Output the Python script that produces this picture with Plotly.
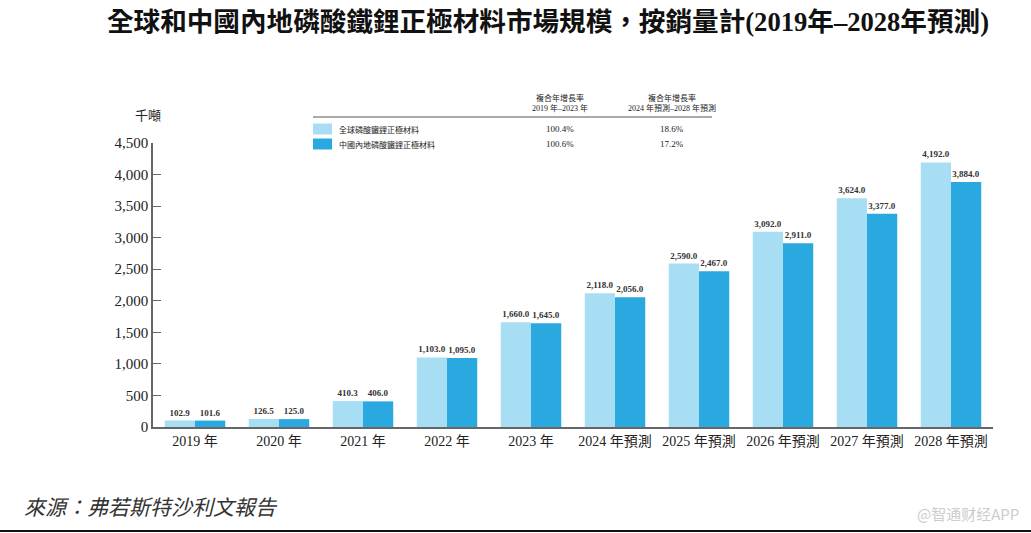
import plotly.graph_objects as go

categories = ["2019年", "2020年", "2021年", "2022年", "2023年",
              "2024年預測", "2025年預測", "2026年預測", "2027年預測", "2028年預測"]
tick_labels = ["2019 年", "2020 年", "2021 年", "2022 年", "2023 年",
               "2024 年預測", "2025 年預測", "2026 年預測", "2027 年預測", "2028 年預測"]
global_vals = [102.9, 126.5, 410.3, 1103.0, 1660.0, 2118.0, 2590.0, 3092.0, 3624.0, 4192.0]
china_vals = [101.6, 125.0, 406.0, 1095.0, 1645.0, 2056.0, 2467.0, 2911.0, 3377.0, 3884.0]
series_names = ["全球磷酸鐵鋰正極材料", "中國內地磷酸鐵鋰正極材料"]
cagr_1 = ["100.4%", "100.6%"]
cagr_2 = ["18.6%", "17.2%"]
y_ticks = [0, 500, 1000, 1500, 2000, 2500, 3000, 3500, 4000, 4500]

LIGHT = "#A7DEF3"
DARK = "#29A9E0"
SERIF = "Liberation Serif, Times New Roman, serif"
CJK = "Noto Sans CJK TC, Noto Sans CJK SC, sans-serif"

W, H = 1031, 533
L, R, T, B = 153, 993, 143, 427


def px(x):
    return (x - L) / (R - L)


def py(y):
    return (B - y) / (B - T)


fig = go.Figure()
for name, vals, col in [(series_names[0], global_vals, LIGHT), (series_names[1], china_vals, DARK)]:
    fig.add_trace(go.Bar(
        x=categories, y=vals, name=name, marker=dict(color=col, line=dict(width=0)),
        text=[f"<b>{v:,.1f}</b>" for v in vals], textposition="outside",
        textfont=dict(family=SERIF, size=9, color="#333"),
        cliponaxis=False, showlegend=False,
    ))

fig.update_layout(
    width=W, height=H,
    margin=dict(l=L, r=W - R, t=T, b=H - B),
    paper_bgcolor="white", plot_bgcolor="white",
    barmode="group", bargap=0.28, bargroupgap=0.0,
    uniformtext=dict(minsize=9, mode="show"),
    font=dict(family=SERIF, color="#222"),
)
fig.update_xaxes(
    tickvals=categories, ticktext=tick_labels,
    showline=True, linecolor="#666", linewidth=1.5, ticks="",
    tickfont=dict(family=SERIF + ", " + CJK, size=14, color="#222"),
    showgrid=False, range=[-0.5, 9.5],
)
fig.update_yaxes(
    range=[0, 4500], tickvals=y_ticks, ticktext=[f"{v:,}" for v in y_ticks],
    showline=True, linecolor="#666", linewidth=1.5,
    ticks="inside", ticklen=8, tickcolor="#666",
    tickfont=dict(family=SERIF, size=15, color="#222"),
    showgrid=False, zeroline=False,
)

ann = []
shapes = []
# title
ann.append(dict(x=px(548), y=py(22), xref="paper", yref="paper", xanchor="center", yanchor="middle",
                text="<b>全球和中國內地磷酸鐵鋰正極材料市場規模，按銷量計(2019年–2028年預測)</b>",
                showarrow=False, font=dict(family=SERIF + ", " + CJK, size=26.6, color="#111")))
# unit
ann.append(dict(x=px(148), y=py(115), xref="paper", yref="paper", xanchor="center", yanchor="middle",
                text="千噸", showarrow=False, font=dict(family=CJK, size=13, color="#222")))
# table headers
for cx, l1, l2 in [(560, "複合年增長率", "2019 年–2023 年"), (672, "複合年增長率", "2024 年預測–2028 年預測")]:
    ann.append(dict(x=px(cx), y=py(97), xref="paper", yref="paper", xanchor="center", yanchor="middle",
                    text=l1, showarrow=False, font=dict(family=CJK, size=8, color="#222")))
    ann.append(dict(x=px(cx), y=py(108), xref="paper", yref="paper", xanchor="center", yanchor="middle",
                    text=l2, showarrow=False, font=dict(family=SERIF + ", " + CJK, size=8, color="#222")))
shapes.append(dict(type="line", xref="paper", yref="paper", x0=px(313), x1=px(712), y0=py(117), y1=py(117),
                   line=dict(color="#555", width=1)))
for i, (yy, col) in enumerate([(129, LIGHT), (144, DARK)]):
    shapes.append(dict(type="rect", xref="paper", yref="paper", x0=px(313), x1=px(332),
                       y0=py(yy - 5.5), y1=py(yy + 5.5), fillcolor=col, line=dict(width=0)))
    ann.append(dict(x=px(337), y=py(yy), xref="paper", yref="paper", xanchor="left", yanchor="middle",
                    text=series_names[i], showarrow=False, font=dict(family=CJK, size=8, color="#222")))
    ann.append(dict(x=px(560), y=py(yy), xref="paper", yref="paper", xanchor="center", yanchor="middle",
                    text=cagr_1[i], showarrow=False, font=dict(family=SERIF, size=9, color="#222")))
    ann.append(dict(x=px(672), y=py(yy), xref="paper", yref="paper", xanchor="center", yanchor="middle",
                    text=cagr_2[i], showarrow=False, font=dict(family=SERIF, size=9, color="#222")))
# source
ann.append(dict(x=px(22), y=py(506), xref="paper", yref="paper", xanchor="left", yanchor="middle",
                text="<i>來源：弗若斯特沙利文報告</i>", showarrow=False,
                font=dict(family=CJK, size=21, color="#333")))
# watermark
ann.append(dict(x=px(1021), y=py(513), xref="paper", yref="paper", xanchor="right", yanchor="middle",
                text="@智通财经APP", showarrow=False,
                font=dict(family="Noto Sans CJK SC, sans-serif", size=15, color="#cccccc")))
# bottom rule
shapes.append(dict(type="line", xref="paper", yref="paper", x0=px(0), x1=px(1031), y0=py(531), y1=py(531),
                   line=dict(color="#111", width=2)))

fig.update_layout(annotations=ann, shapes=shapes)
fig.write_html("out.html", config={"displayModeBar": False},
               post_script="document.body.style.margin='0';document.body.style.overflow='hidden';")
